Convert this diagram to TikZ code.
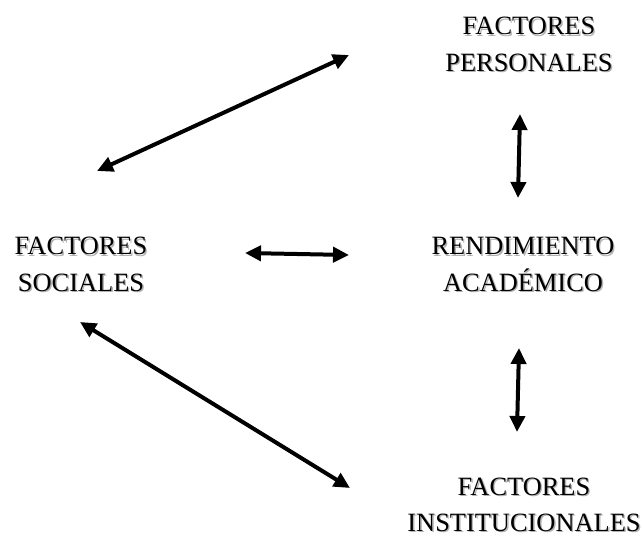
\documentclass[tikz,border=0pt]{standalone}
\usepackage{fontspec}
\setmainfont{Liberation Serif}
\usetikzlibrary{arrows.meta}

\newcommand{\sombra}[1]{\makebox[0pt][l]{\hspace{1.4pt}\raisebox{-1.4pt}{\textcolor{black!30}{#1}}}#1}

\begin{document}
\begin{tikzpicture}[x=1pt,y=-1pt,
        rotulo/.style={align=center,anchor=base,inner sep=0pt,
            font=\fontsize{26.4}{36.5}\selectfont},
        flecha/.style={line width=4pt,
            {Triangle[length=16pt,width=15pt]}-{Triangle[length=16pt,width=15pt]}}]

        \useasboundingbox (0,0) rectangle (643,537);

        \node[rotulo] (personales) at (529,71.5) {\sombra{FACTORES}\\\sombra{PERSONALES}};
        \node[rotulo] (sociales) at (81,291.5) {\sombra{FACTORES}\\\sombra{SOCIALES}};
        \node[rotulo] (rendimiento) at (523,291.5) {\sombra{RENDIMIENTO}\\\sombra{ACADÉMICO}};
        \node[rotulo] (institucionales) at (524,531.5) {\sombra{FACTORES}\\\sombra{INSTITUCIONALES}};

        % extremos de las flechas
        \coordinate (sp1) at (97,171);
        \coordinate (sp2) at (349,55);
        \coordinate (sr1) at (245,253);
        \coordinate (sr2) at (349,255);
        \coordinate (pr1) at (520,114);
        \coordinate (pr2) at (518,198);
        \coordinate (ri1) at (519,348);
        \coordinate (ri2) at (517,432);
        \coordinate (si1) at (80,322);
        \coordinate (si2) at (350,488);

        \draw[flecha] (sp1) -- (sp2);
        \draw[flecha] (sr1) -- (sr2);
        \draw[flecha] (pr1) -- (pr2);
        \draw[flecha] (ri1) -- (ri2);
        \draw[flecha] (si1) -- (si2);
    \end{tikzpicture}
\end{document}
